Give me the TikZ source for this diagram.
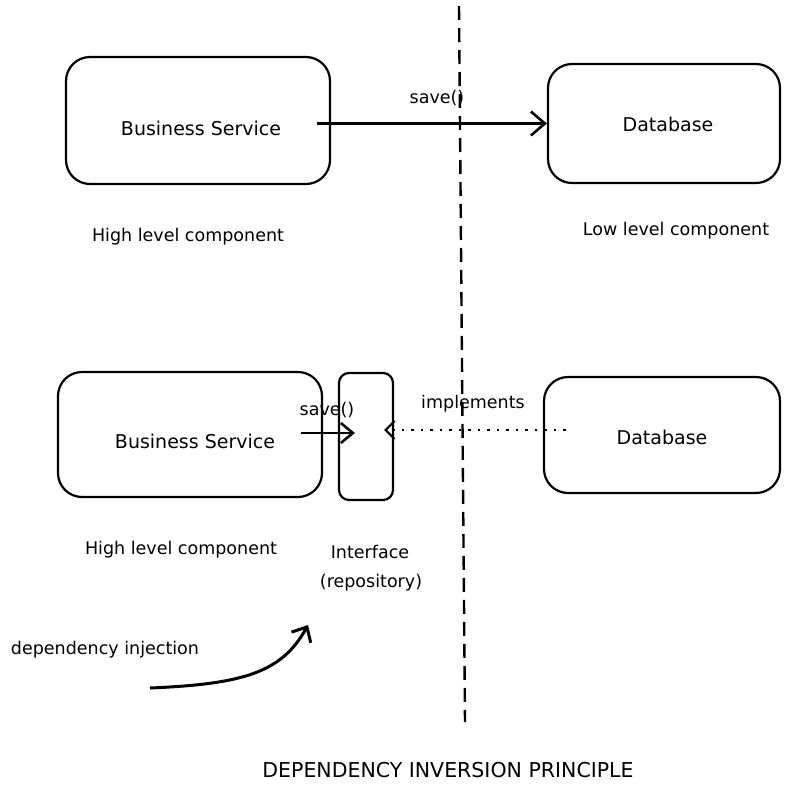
\documentclass[tikz,border=0pt]{standalone}
\usepackage{fontspec}
\setmainfont{DejaVu Sans}
\usetikzlibrary{arrows.meta}
\tikzset{
  comp/.style={draw,line width=2.2pt,rounded corners=24pt},
  lbl/.style={font=\fontsize{17.5}{21}\selectfont},
  big/.style={font=\fontsize{19}{23}\selectfont},
  barb/.style={-{Straight Barb[length=14pt,width=24pt]},line width=2.6pt},
}
\begin{document}
\begin{tikzpicture}[x=1pt,y=-1pt]
\useasboundingbox (0,0) rectangle (798,793);
\draw[line width=2.4pt,dash pattern=on 14pt off 8pt] (459,6)--(465,722);
% top row
\node[comp,minimum width=264pt,minimum height=127pt] (bsA) at (198,120.5) {};
\node[big] at (201,128) {Business Service};
\node[comp,minimum width=232pt,minimum height=119pt] (dbA) at (664,123.5) {};
\node[big] at (668,124) {Database};
\draw[barb] ([xshift=-14pt,yshift=-3pt]bsA.east)--(dbA.west);
\node[lbl] (saveA) at (437,98) {save()};
\node[lbl] at (188,237) {High level component};
\node[lbl] at (676,231) {Low level component};
% bottom row
\node[comp,minimum width=264pt,minimum height=125pt] (bsB) at (190,434.5) {};
\node[big] at (195,441) {Business Service};
\node[comp,rounded corners=10pt,minimum width=54pt,minimum height=127pt] (iface) at (366,436.5) {};
\node[comp,minimum width=236pt,minimum height=116pt] (dbB) at (662,435) {};
\node[big] at (662,437) {Database};
\draw[barb,-{Straight Barb[length=12pt,width=20pt]}] ([xshift=-22pt,yshift=1.5pt]bsB.east)--([xshift=17pt,yshift=3.5pt]iface.west);
\node[lbl] (saveB) at (327,410) {save()};
\draw[-{Straight Barb[length=9pt,width=18pt]},line width=2.2pt,dash pattern=on 2.5pt off 7pt] ([xshift=23pt,yshift=5pt]dbB.west)--([xshift=-10pt,yshift=6.5pt]iface.east);
\node[lbl] (impl) at (473,404) {implements};
\node[lbl] at (181,550) {High level component};
\node[lbl] at (370,552) {Interface};
\node[lbl] at (371,583) {(repository)};
% dependency injection
\node[lbl] (dinj) at (105,650) {dependency injection};
\coordinate (c1) at (150,688);
\coordinate (c2) at (308,625);
\draw[barb,line width=3pt,-{Straight Barb[length=12pt,width=22pt]}] (c1) .. controls (245,684) and (282,672) .. (c2);
\node[font=\fontsize{20.5}{24}\selectfont] (title) at (448,770) {DEPENDENCY INVERSION PRINCIPLE};
\end{tikzpicture}
\end{document}
